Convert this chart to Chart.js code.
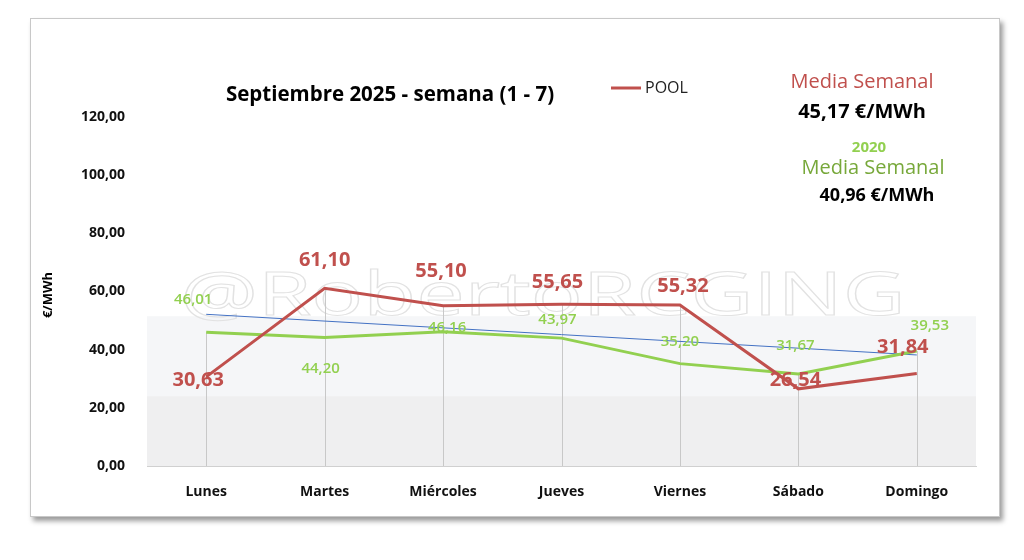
<!DOCTYPE html>
<html><head><meta charset="utf-8">
<script src="https://cdn.jsdelivr.net/npm/chart.js@4"></script>
<style>
body{margin:0;background:#fff;width:1024px;height:560px;position:relative;overflow:hidden}
#frame{position:absolute;left:30px;top:18px;width:968px;height:497px;border:1px solid #c8c8c8;box-shadow:3px 4px 5px #9a9a9a;background:#fff}
canvas{position:absolute;left:0;top:0}
</style></head><body>
<div id="frame"></div>
<canvas id="c" width="1024" height="560"></canvas>
<script>
const categories=['Lunes','Martes','Miércoles','Jueves','Viernes','Sábado','Domingo'];
const pool=[30.63,61.10,55.10,55.65,55.32,26.54,31.84];
const pool2020=[46.01,44.20,46.16,43.97,35.20,31.67,39.53];
const trend=[52.16,null,null,null,null,null,38.18];
const yTicks=[0,20,40,60,80,100,120];
const fmt=v=>v.toFixed(2).replace('.',',');
const redOff=[[-8,3],[0,-28],[-2,-34],[-4,-22],[3,-19],[-3,-9],[-14,-26]];
const grnOff=[[-13,-32],[-4,31],[4,-4],[-4,-18],[0,-22],[-3,-28],[13,-25]];
const RED='#c0504d',GREEN='#92d050';
const deco={id:'deco',
beforeDatasetsDraw(ch){const c=ch.ctx,a=ch.chartArea,y=ch.scales.y,x=ch.scales.x;
 c.save();c.fillStyle='#f5f6f8';c.fillRect(a.left,y.getPixelForValue(51.5),a.right-a.left,y.getPixelForValue(24)-y.getPixelForValue(51.5));
 c.fillStyle='#efeff0';c.fillRect(a.left,y.getPixelForValue(24),a.right-a.left,a.bottom-y.getPixelForValue(24));
 c.font='72px "Open Sans"';c.textAlign='center';c.textBaseline='middle';
 const w=c.measureText('@RobertoRCGING').width;c.translate(543,298);c.scale(725/w,0.85);
 c.strokeStyle='#e2e2e2';c.lineWidth=1.2;c.strokeText('@RobertoRCGING',0,0);c.restore();
 c.save();c.strokeStyle='#c8c8c8';c.lineWidth=1;
 pool.forEach((v,i)=>{const px=Math.round(x.getPixelForValue(i))+0.5;const top=Math.min(y.getPixelForValue(v),y.getPixelForValue(pool2020[i]));c.beginPath();c.moveTo(px,top);c.lineTo(px,a.bottom);c.stroke();});
 c.restore();},
afterDatasetsDraw(ch){const c=ch.ctx,y=ch.scales.y,x=ch.scales.x;c.save();c.textAlign='center';c.textBaseline='middle';
 pool2020.forEach((v,i)=>{c.font='600 15px "Open Sans"';c.fillStyle=GREEN;c.fillText(fmt(v),x.getPixelForValue(i)+grnOff[i][0],y.getPixelForValue(v)+grnOff[i][1]);});
 pool.forEach((v,i)=>{c.font='bold 20px "Open Sans"';c.fillStyle=RED;c.fillText(fmt(v),x.getPixelForValue(i)+redOff[i][0],y.getPixelForValue(v)+redOff[i][1]);});
 c.font='bold 20.5px "Open Sans"';c.fillStyle='#000';c.fillText('Septiembre 2025 - semana (1 - 7)',390,95);
 c.strokeStyle=RED;c.lineWidth=3;c.beginPath();c.moveTo(611,88);c.lineTo(641,88);c.stroke();
 c.textAlign='left';c.font='16px "Open Sans"';c.fillStyle='#222';c.fillText('POOL',645,88);
 c.textAlign='center';c.font='20px "Open Sans"';c.fillStyle=RED;c.fillText('Media Semanal',862,82);
 c.font='bold 20px "Open Sans"';c.fillStyle='#000';c.fillText('45,17 €/MWh',862,112);
 c.font='bold 15px "Open Sans"';c.fillStyle=GREEN;c.fillText('2020',869,148);
 c.font='20px "Open Sans"';c.fillStyle='#77a83a';c.fillText('Media Semanal',873,168);
 c.font='bold 18px "Open Sans"';c.fillStyle='#000';c.fillText('40,96 €/MWh',877,196);
 c.translate(48,295);c.rotate(-Math.PI/2);c.font='bold 13px "Open Sans"';c.fillText('€/MWh',0,0);
 c.restore();}};
new Chart(document.getElementById('c'),{type:'line',
data:{labels:categories,datasets:[
 {data:trend,borderColor:'#4472c4',borderWidth:1,pointRadius:0,spanGaps:true,order:3},
 {data:pool2020,borderColor:GREEN,borderWidth:3,pointRadius:0,order:2},
 {data:pool,borderColor:RED,borderWidth:3,pointRadius:0,order:1}]},
options:{responsive:false,animation:false,layout:{padding:{left:0,top:117,right:48,bottom:0}},
 plugins:{legend:{display:false},tooltip:{enabled:false}},
 scales:{
  x:{offset:true,grid:{display:false,offset:true},border:{color:'#d0d0d0'},ticks:{color:'#111',font:{family:'Open Sans',size:14,weight:'bold'},padding:10},afterFit:s=>{s.height=94;}},
  y:{min:0,max:120,afterBuildTicks:s=>{s.ticks=yTicks.map(v=>({value:v}));},grid:{display:false},border:{display:false},
   ticks:{color:'#111',font:{family:'Open Sans',size:14,weight:'bold'},padding:14,callback:v=>fmt(v)},afterFit:s=>{s.width=147;}}}},
plugins:[deco]});
</script></body></html>
